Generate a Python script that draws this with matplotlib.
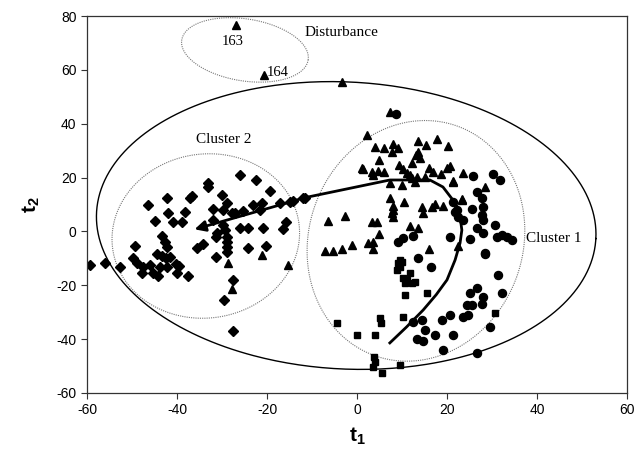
import numpy as np
import matplotlib.pyplot as plt

plt.rcParams["font.family"] = ["Liberation Sans", "DejaVu Sans"]
plt.rcParams["mathtext.fontset"] = "custom"
plt.rcParams["mathtext.bf"] = "Liberation Sans:bold"
plt.rcParams["mathtext.rm"] = "Liberation Sans"
plt.rcParams["axes.unicode_minus"] = False

# score points (t1, t2)
diamond_x = [-59.3, -56, -52.7, -49.3, -49.8, -48.9, -47.6, -47.8, -46, -45.3, -44.2, -43.8,
             -46.4, -44.9, -42, -42.2, -40.9, -38.9, -38.2, -43.3, -42.7, -42.2, -44.4, -43.3,
             -42.4, -41.6, -42.2, -40.2, -39.6, -40, -37.6, -37.1, -36.7, -33.1, -33.1, -35.6,
             -34.2, -30, -28.9, -32, -29.8, -27.8, -27.1, -32, -29.8, -31.1, -31.3, -29.3,
             -28.9, -28.9, -28.9, -28.9, -31.3, -26, -22.4, -19.3, -25.3, -23.1, -21.1, -21.6,
             -17.1, -14.2, -11.6, -26, -24.2, -20.9, -16.4, -15.8, -24.2, -20.2, -27.6, -29.6,
             -27.6, -14.9, -12]
diamond_y = [-12.5, -11.7, -13.2, -5.4, -9.9, -11.7, -13.2, -15.4, -12.5, -15.4, -16.5, -13.2,
             9.8, 3.9, 6.8, 12.4, 3.5, 3.5, 7.2, -1.7, -3.9, -5.8, -8.4, -9.1,
             -9.9, -9.5, -13.2, -12.1, -12.8, -15.4, -16.5, 12.4, 13.2, 18, 16.5, -6.1,
             -4.7, 13.5, 10.6, 8.3, 8, 6.9, 6.9, 4.2, 2.4, -0.6, -2, 0.5,
             -2, -3.9, -5.8, -7.6, -9.5, 21, 19.1, 15, 7.6, 9.8, 10.6, 8,
             10.6, 11.3, 12.4, 1.3, 1.3, 1.3, 0.9, 3.5, -6.1, -5.4, -18, -25.5,
             -37, 10.9, 12.4]

triangle_x = [-26.9, -20.7, -3.3, 7.3, -28.7, -21.1, -15.3, -27.8,
              2.2, 4.0, 6.0, 8.0, 9.1, 7.8, 13.6, 15.3, 17.8, 20.2, 4.9, 1.3, 3.3, 4.7, 6,
              3.6, 9.3, 10.2, 12.2, 13.1, 13.6, 14, 11.1, 11.8, 12.2, 13.3, 12.9, 15.1, 16,
              16.9, 18.7, 20, 23.6, 21.3, 7.3, 10, 7.3, 10.4, 8, 8, 7.8, 8, 14.4, 16.7,
              17.3, 19.1, 14.7, 23.3, -6.4, -2.7, 3.3, 4.4, 11.8, 13.6, -7.1, -5.3, -3.3,
              -1.1, 2.4, 3.6, 3.6, 4.9, 16, 20.7, 21.3, 28.4, 23.3, 22.4, 1.1]
triangle_y = [76.7, 58.1, 55.5, 44.4, -11.7, -8.8, -12.5, -21.4,
              35.8, 31.4, 31, 32.5, 31, 29.5, 33.6, 32.1, 34.3, 31.7, 26.5, 23.2, 22.1, 22.4, 22.1,
              21, 24.7, 23.2, 25.4, 28.4, 29.5, 27.3, 21.7, 21, 19.8, 20.2, 18.4, 20.2, 23.6,
              22.1, 21.3, 23.6, 21.7, 18.7, 18, 17.2, 12.4, 10.9, 9.4, 8, 6.9, 5.4, 9.1, 9.1,
              10.2, 9.4, 6.9, 12, 3.9, 5.7, 3.5, 3.5, 2.0, 1.3, -7.3, -7.3, -6.5,
              -5, -4.3, -3.9, -6.5, -0.9, -6.5, 24.3, 18.4, 16.5, 11.7, -5.4, 23.6]

circle_x = [8.7, 25.8, 30.2, 31.8, 26.7, 27.8, 28, 25.6, 27.8, 28, 21.8, 23.6, 26.7, 30.7,
            31.1, 32.2, 33.3, 34.4, 25.1, 20.7, 28.4, 31.3, 26.7, 25.1, 28, 25.6, 27.8, 32.2,
            24.7, 20.7, 18.9, 21.3, 17.3, 29.6, 19.1, 26.7, 9.1, 10.2, 12.4, 13.6, 16.4, 28,
            28.4, 24.4, 23.6, 14.4, 12.4, 15.1, 13.3, 14.7, 22.2, 21.3, 22.4]
circle_y = [43.6, 20.6, 21.3, 19.1, 14.6, 12.4, 9.1, 8.3, 6.1, 4.2, 7.2, 4.2, 1.3, 2.4,
            -2, -1.3, -2, -3.2, -2.8, -2, -8.4, -16.2, -21, -22.9, -24.3, -27.3, -26.9, -22.9,
            -31, -31, -32.9, -38.5, -38.5, -35.5, -44, -45.1, -3.9, -2.4, -1.7, -9.9, -13.2, -0.6,
            -8, -27.3, -31.8, -32.9, -33.6, -36.6, -39.9, -40.7, 8, 11, 5.5]

square_x = [9.6, 9.1, 10, 9.6, 8.9, 10.2, 11.1, 11.8, 10.7, 12.9, 12.2, 10.7, 15.6, -4.4,
            5.1, 5.3, 10.2, 0, 4, 3.8, 4, 3.6, 5.6, 9.6, 30.7]
square_y = [-10.6, -11.7, -11.3, -13.2, -14.3, -17.3, -18, -15.4, -19.1, -18.8, -19.1, -23.6,
            -22.9, -34, -32.1, -34, -31.8, -38.5, -38.5, -46.6, -48.5, -50.3, -52.6, -49.6, -30.3]

# trajectory of the process
traj_x = [7.3, 11, 14.7, 17.6, 20.0, 21.8, 22.9, 23.3, 22.7, 21.3, 19.1, 16.2, 7.3, -12, -14.9, -36.7]
traj_y = [-41.4, -35.5, -29.2, -23.5, -18.0, -10.6, -4.3, 0.5, 8.0, 11.7, 16.5, 19.1, 19.1, 12.4, 10.9, 0.5]

fig = plt.figure(figsize=(6.35, 4.55), dpi=100)
ax = fig.add_axes([87 / 635, 62 / 455, 540 / 635, 377 / 455])

KX = 540 / 120  # px per unit
KY = 377 / 140


def ellipse(cx, cy, a, b, ang, **kw):
    # a, b are half axes in pixels, ang in degrees on screen
    t = np.linspace(0, 2 * np.pi, 400)
    th = np.radians(ang)
    u = a * np.cos(t)
    v = b * np.sin(t)
    ax.plot(cx + (u * np.cos(th) - v * np.sin(th)) / KX,
            cy + (u * np.sin(th) + v * np.cos(th)) / KY, **kw)


ellipse(-2.4, 2.2, 250, 143.5, -3, color="black", lw=1.0)
ellipse(-33.6, -1.7, 94, 82, 8, color="#777777", lw=0.8, ls=(0, (1, 1)))
ellipse(13.1, -3.5, 107, 122, -20, color="#777777", lw=0.8, ls=(0, (1, 1)))
ellipse(-24.9, 67.4, 64, 31, -9, color="#777777", lw=0.8, ls=(0, (1, 1)))

ax.plot(diamond_x, diamond_y, "D", color="black", ms=5.5, ls="none")
ax.plot(triangle_x, triangle_y, "^", color="black", ms=5.5, ls="none")
ax.plot(circle_x, circle_y, "o", color="black", ms=5.8, ls="none")
ax.plot(square_x, square_y, "s", color="black", ms=5, ls="none")

ax.plot(traj_x[:-1], traj_y[:-1], color="black", lw=2)
ax.annotate("", xy=(traj_x[-1], traj_y[-1]), xytext=(traj_x[-2], traj_y[-2]),
            arrowprops=dict(arrowstyle="-|>", color="black", lw=2, mutation_scale=16))

serif = ["Liberation Serif", "DejaVu Serif"]
ax.text(-11.6, 73.7, "Disturbance", family=serif, fontsize=11, va="center")
ax.text(-27.6, 70.7, "163", family=serif, fontsize=10.5, ha="center", va="center")
ax.text(-20.0, 59.2, "164", family=serif, fontsize=10.5, ha="left", va="center")
ax.text(-29.6, 34, "Cluster 2", family=serif, fontsize=11, ha="center", va="center")
ax.text(43.8, -2.8, "Cluster 1", family=serif, fontsize=11, ha="center", va="center")

ax.set_xlim(-60, 60)
ax.set_ylim(-60, 80)
ax.set_xticks(range(-60, 61, 20))
ax.set_yticks(range(-60, 81, 20))
ax.tick_params(direction="out", length=4, labelsize=10, color="#333333")
for sp in ax.spines.values():
    sp.set_linewidth(0.9)
    sp.set_color("#333333")
ax.set_xlabel(r"$\mathbf{t}_\mathbf{1}$", fontsize=15, labelpad=6)
ax.set_ylabel(r"$\mathbf{t}_\mathbf{2}$", fontsize=15, labelpad=10)

fig.savefig("out.png", dpi=100)
